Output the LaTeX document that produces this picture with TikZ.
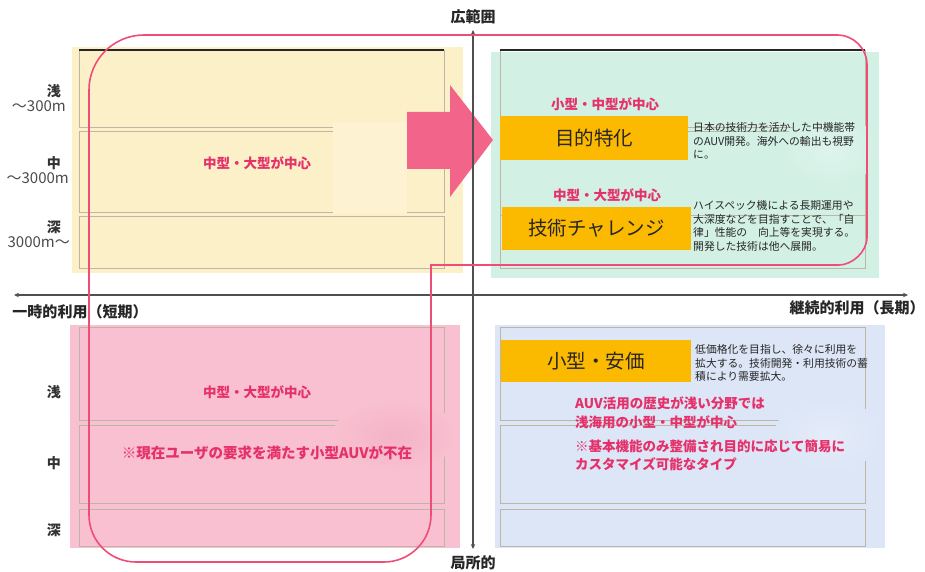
\documentclass[tikz,border=0pt]{standalone}
\usepackage{fontspec}
\setmainfont{Noto Sans CJK JP}
\usetikzlibrary{arrows.meta}
\definecolor{qyellow}{HTML}{FCF0C9}
\definecolor{qyellowlight}{HTML}{FDF2D2}
\definecolor{qmint}{HTML}{D3F0E5}
\definecolor{qmintlight}{HTML}{DEF4EC}
\definecolor{qpink}{HTML}{F8C0D0}
\definecolor{qpinkdark}{HTML}{F4B3C7}
\definecolor{qblue}{HTML}{DCE6F6}
\definecolor{qbluelight}{HTML}{E5ECF9}
\definecolor{boxorange}{HTML}{FBB900}
\definecolor{pinktext}{HTML}{E5306A}
\definecolor{outlinepink}{HTML}{EE4D78}
\definecolor{arrowpink}{HTML}{F3648B}
\definecolor{axisgray}{HTML}{505050}
\definecolor{framegray}{HTML}{BDB5A5}
\begin{document}
\begin{tikzpicture}[x=1pt,y=-1pt,
  frame/.style={draw=framegray, line width=0.7pt},
  topline/.style={draw=black!85, line width=1.1pt},
  orangebox/.style={fill=boxorange, inner sep=0pt, font=\fontsize{19.5}{19.5}\selectfont, text=black!85},
  pinklabel/.style={text=pinktext, font=\bfseries\fontsize{13.5}{15}\selectfont, inner sep=0pt},
  pinknote/.style={text=pinktext, font=\bfseries\fontsize{13.5}{15}\selectfont, inner sep=0pt, anchor=west},
  desc/.style={align=left, anchor=west, inner sep=0pt, font=\fontsize{10.8}{13.6}\selectfont, text=black!85},
  depth/.style={anchor=east, inner sep=0pt, font=\bfseries\fontsize{14}{14}\selectfont, text=black!80},
  depthsub/.style={anchor=east, inner sep=0pt, font=\fontsize{15}{15}\selectfont, text=black!70},
  axislabel/.style={font=\bfseries\fontsize{15}{15}\selectfont, inner sep=0pt, text=black!85},
  axisline/.style={draw=axisgray, line width=1.1pt, {Stealth[length=5pt,width=4.5pt]}-{Stealth[length=5pt,width=4.5pt]}},
  outline/.style={draw=outlinepink, line width=1.6pt}
]
\useasboundingbox (0,0) rectangle (925,572);
\fill[white] (0,0) rectangle (925,572);

% quadrant backgrounds
\fill[qyellow] (72,47) rectangle (463,273);
\fill[qmint] (491,52) rectangle (879,278);
\fill[qpink] (70,325) rectangle (460,548);
\fill[qblue] (495,325) rectangle (885,548);

% frames: top-left
\draw[frame] (79,50) rectangle (444,127);
\draw[frame] (79,131) rectangle (444,212);
\draw[frame] (79,216) rectangle (444,268);
\draw[topline] (79,50) -- (444,50);
% frames: top-right
\draw[frame] (500,50) rectangle (865,127);
\draw[frame] (500,131) rectangle (865,215);
\draw[frame] (500,215) rectangle (865,268);
\draw[topline] (500,50) -- (865,50);
% frames: bottom-left
\draw[frame] (79,327) rectangle (444,420);
\draw[frame] (79,425) rectangle (444,503);
\draw[frame] (79,509) rectangle (444,546);
% frames: bottom-right
\draw[frame] (500,327) rectangle (865,420);
\draw[frame] (500,425) rectangle (865,503);
\draw[frame] (500,509) rectangle (865,546);

% faded patches
\fill[qyellowlight] (333,122) rectangle (407,214);
\shade[inner color=qmintlight, outer color=qmint] (830,150) ellipse [x radius=48pt, y radius=36pt];
\shade[inner color=qpinkdark, outer color=qpink] (395,435) ellipse [x radius=62pt, y radius=36pt];
\shade[inner color=qbluelight, outer color=qblue] (828,435) ellipse [x radius=54pt, y radius=36pt];

% big arrow
\fill[arrowpink] (407,112) -- (450,112) -- (450,85) -- (493,140) -- (450,197) -- (450,169) -- (407,169) -- cycle;

% axes
\coordinate (vtop) at (473,30);
\coordinate (vbot) at (473,549);
\coordinate (hleft) at (14,295);
\coordinate (hright) at (908,295);
\draw[axisline] (vbot) -- (vtop);
\draw[axisline] (hleft) -- (hright);
\node[axislabel] (wide) at (473,17) {広範囲};
\node[axislabel] (local) at (473,563) {局所的};
\node[axislabel] (short) at (80,312) {一時的利用（短期）};
\node[axislabel] (long) at (857,308) {継続的利用（長期）};

% depth labels
\node[depth] (d1) at (61,91) {浅};
\node[depthsub] (d1s) at (66,106) {～300m};
\node[depth] (d2) at (61,163) {中};
\node[depthsub] (d2s) at (69,178) {～3000m};
\node[depth] (d3) at (61,227) {深};
\node[depthsub] (d3s) at (70,242) {3000m～};
\node[depth] (e1) at (61,392) {浅};
\node[depth] (e2) at (61,463) {中};
\node[depth] (e3) at (61,530) {深};

% top-left / bottom-left labels
\node[pinklabel] (tlmain) at (257,163) {中型・大型が中心};
\node[pinklabel] (blmain) at (257,392) {中型・大型が中心};
\node[pinklabel, font=\bfseries\fontsize{14.5}{15}\selectfont] (blnote) at (267,453) {※現在ユーザの要求を満たす小型AUVが不在};

% top-right
\node[pinklabel] (trl1) at (605,104) {小型・中型が中心};
\node[orangebox, minimum width=188pt, minimum height=44pt] (purpose) at (594,138) {目的特化};
\node[desc] (purposedesc) at (693,141) {日本の技術力を活かした中機能帯\\のAUV開発。海外への輸出も視野\\に。};
\node[pinklabel] (trl2) at (607,195) {中型・大型が中心};
\node[orangebox, minimum width=189pt, minimum height=43pt] (challenge) at (596.5,228.5) {技術チャレンジ};
\node[desc] (challengedesc) at (693,226) {ハイスペック機による長期運用や\\大深度などを目指すことで、「自\\律」性能の　向上等を実現する。\\開発した技術は他へ展開。};

% bottom-right
\node[orangebox, minimum width=190pt, minimum height=42pt] (cheap) at (596,361) {小型・安価};
\node[desc] (cheapdesc) at (695,363) {低価格化を目指し、徐々に利用を\\拡大する。技術開発・利用技術の蓄\\積により需要拡大。};
\node[pinknote] (brn1) at (575,403) {AUV活用の歴史が浅い分野では};
\node[pinknote] (brn2) at (575,422) {浅海用の小型・中型が中心};
\node[pinknote] (brn3) at (575,446) {※基本機能のみ整備され目的に応じて簡易に};
\node[pinknote] (brn4) at (575,464) {カスタマイズ可能なタイプ};

% pink L-shaped outline
\draw[outline] (89,515) -- (89,90)
  .. controls (89,59.6) and (113.6,35) .. (144,35)
  -- (837,35)
  .. controls (853.6,35) and (867,48.4) .. (867,65)
  -- (867,237)
  .. controls (867,252.5) and (851.5,265) .. (839,265)
  -- (431,265) -- (431,515)
  .. controls (431,541) and (410,562) .. (384,562)
  -- (136,562)
  .. controls (110,562) and (89,541) .. (89,515) -- cycle;
\end{tikzpicture}
\end{document}
